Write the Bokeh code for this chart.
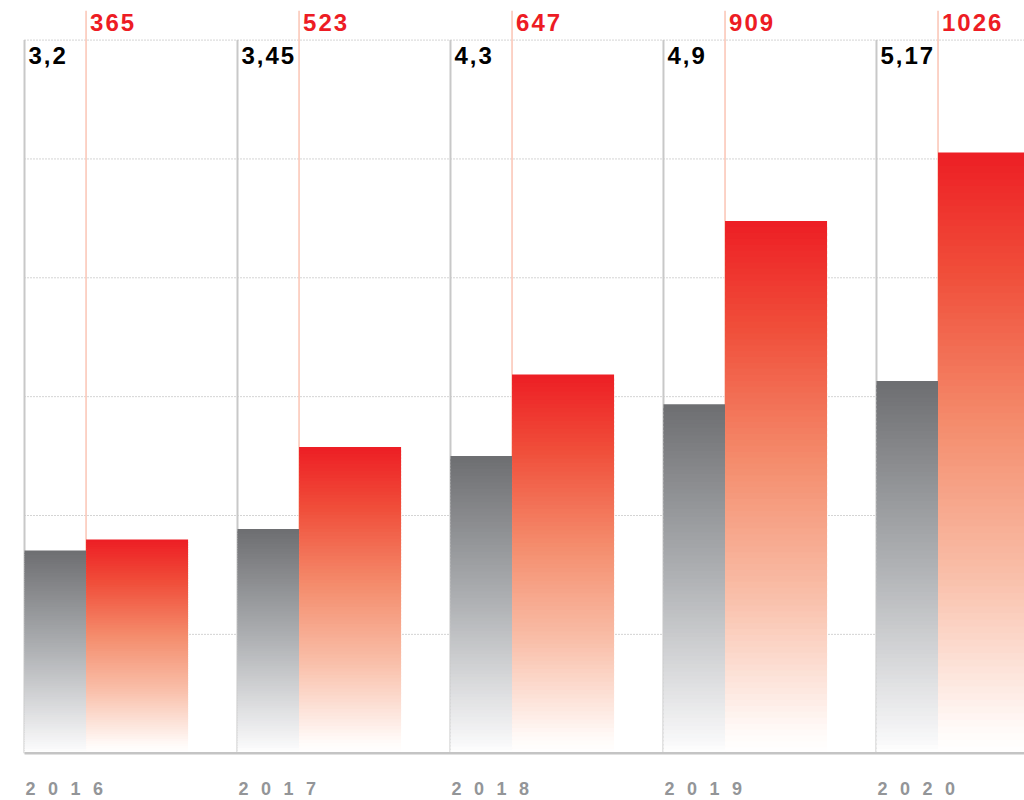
import numpy as np
from bokeh.plotting import figure
from bokeh.models import Range1d, ColumnDataSource
from bokeh.layouts import column
from bokeh.embed import file_html
from bokeh.resources import INLINE
from bokeh.core.properties import value

# ---------------- data ----------------
years = ["2016", "2017", "2018", "2019", "2020"]
grey_values = [3.2, 3.45, 4.3, 4.9, 5.17]
red_values = [365, 523, 647, 909, 1026]
grey_labels = ["3,2", "3,45", "4,3", "4,9", "5,17"]
red_labels = ["365", "523", "647", "909", "1026"]

# ---------------- scales ----------------
RED_RANGE = (-29.5, 1285.6)      # primary (red series) axis range
GREY_RANGE = (0.642, 9.595)      # secondary (grey series) axis range
GREY_BASE = 0.843                # grey series baseline value
GRID_STEP = 203
GRID_COUNT = 6
RED_LINE_TOP = 1268
X_RANGE = (-0.1127, 4.695)

GREY_W = 0.289
RED_W = 0.479
N_STEPS = 90

FONT = "Liberation Sans"
RED = "#ed1c24"

grey_stops = [(0.0, (109, 110, 113)), (0.5, (176, 178, 181)), (0.96, (247, 247, 248)), (1.0, (255, 255, 255))]
red_stops = [(0.0, (237, 30, 36)), (0.2, (240, 78, 58)), (0.45, (244, 140, 108)),
             (0.7, (249, 190, 168)), (0.96, (255, 250, 248)), (1.0, (255, 255, 255))]


def grad(stops, t):
    for (t0, c0), (t1, c1) in zip(stops[:-1], stops[1:]):
        if t <= t1:
            f = (t - t0) / (t1 - t0) if t1 > t0 else 0
            c = [round(a + (b - a) * f) for a, b in zip(c0, c1)]
            return "#%02x%02x%02x" % tuple(c)
    return "#%02x%02x%02x" % stops[-1][1]


def gradient_source(lefts, width, vals, base, stops):
    d = dict(left=[], right=[], bottom=[], top=[], color=[])
    for x0, v in zip(lefts, vals):
        h = v - base
        for k in range(N_STEPS):
            t = k / N_STEPS
            d["left"].append(x0)
            d["right"].append(x0 + width)
            d["top"].append(base + h * (1 - t))
            d["bottom"].append(max(base, base + h * (1 - (k + 1.6) / N_STEPS)))
            d["color"].append(grad(stops, (k + 0.5) / N_STEPS))
    return ColumnDataSource(d)


idx = np.arange(len(years), dtype=float)
grey_left = idx
red_left = idx + GREY_W

x_range = Range1d(*X_RANGE)

p = figure(width=1024, height=770, x_range=x_range, y_range=Range1d(*RED_RANGE),
           output_backend="svg", toolbar_location=None, min_border=0,
           x_axis_location=None, y_axis_location=None,
           outline_line_color=None, background_fill_color="white",
           border_fill_color="white", styles={"letter-spacing": "2px"})
p.extra_y_ranges = {"grey": Range1d(*GREY_RANGE)}
p.grid.visible = False

# gridlines
levels = [GRID_STEP * k for k in range(1, GRID_COUNT + 1)]
p.segment(x0=[0] * len(levels), x1=[X_RANGE[1] + 1] * len(levels), y0=levels, y1=levels,
          line_color="#a8a8a8", line_width=1, line_dash="1 2")

# vertical guide lines
top_level = GRID_STEP * GRID_COUNT
p.segment(x0=grey_left, x1=grey_left, y0=[0] * 5, y1=[top_level] * 5,
          line_color="#c8c8c8", line_width=2)
p.segment(x0=red_left, x1=red_left, y0=[0] * 5, y1=[RED_LINE_TOP] * 5,
          line_color="#fbc8b9", line_width=1.6)

# gradient bars
gsrc = gradient_source(grey_left, GREY_W, grey_values, GREY_BASE, grey_stops)
p.quad(left="left", right="right", bottom="bottom", top="top", fill_color="color",
       line_color=None, source=gsrc, y_range_name="grey")
rsrc = gradient_source(red_left, RED_W, red_values, 0, red_stops)
p.quad(left="left", right="right", bottom="bottom", top="top", fill_color="color",
       line_color=None, source=rsrc)

# baseline
p.segment(x0=[0], x1=[X_RANGE[1] + 1], y0=[0], y1=[0], line_color="#c4c4c4", line_width=2.5)

# value labels
p.text(x=red_left, y=[top_level] * 5, text=red_labels, x_offset=4, y_offset=-18,
       text_baseline="middle", text_align="left", text_font=value(FONT),
       text_font_style="bold", text_font_size="24px", text_color=RED)
p.text(x=grey_left, y=[top_level] * 5, text=grey_labels, x_offset=4, y_offset=15.5,
       text_baseline="middle", text_align="left", text_font=value(FONT),
       text_font_style="bold", text_font_size="24px", text_color="#000000")

# year labels (letter-spaced)
p2 = figure(width=1024, height=30, x_range=x_range, y_range=Range1d(0, 30),
            output_backend="svg", toolbar_location=None, min_border=0,
            x_axis_location=None, y_axis_location=None,
            outline_line_color=None, background_fill_color="white",
            border_fill_color="white", styles={"letter-spacing": "12.5px"})
p2.grid.visible = False
p2.text(x=grey_left, y=[12] * 5, text=years, x_offset=1,
        text_baseline="middle", text_align="left", text_font=value(FONT),
        text_font_style="bold", text_font_size="18px", text_color="#939598")

layout = column(p, p2, spacing=0)
open("out.html", "w").write(file_html(layout, INLINE))
